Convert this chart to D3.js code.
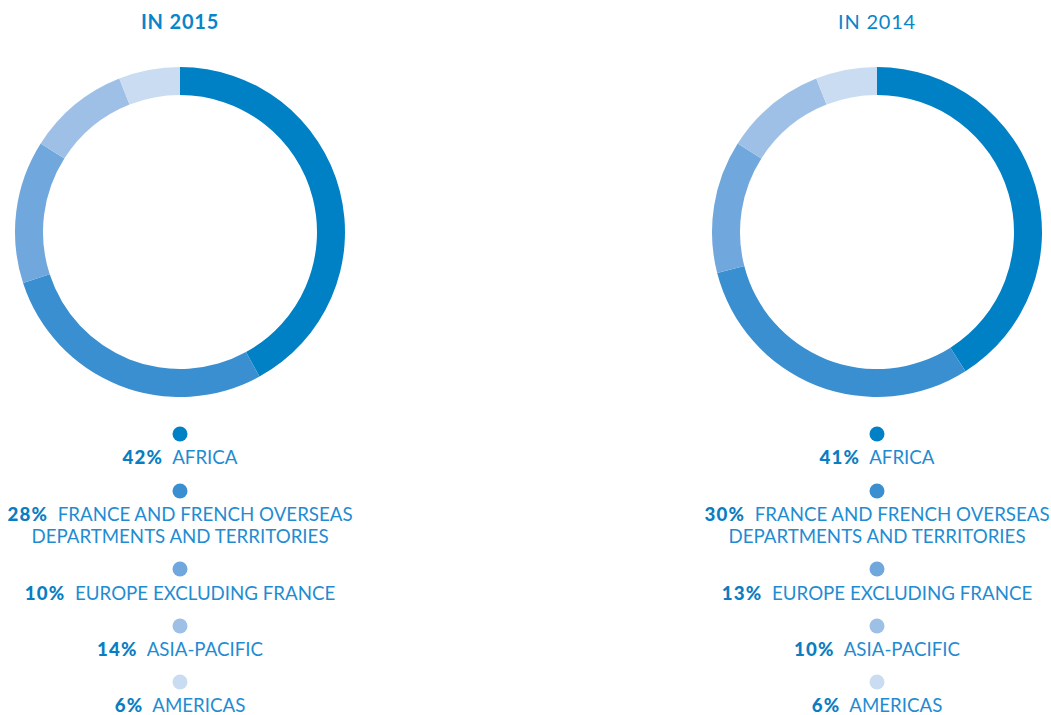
<!DOCTYPE html>
<html>
<head>
<meta charset="utf-8">
<script src="https://cdn.jsdelivr.net/npm/d3@7"></script>
<style>
  html, body { margin: 0; padding: 0; background: #ffffff; }
  svg { display: block; }
</style>
</head>
<body>
<svg id="chart" width="1051" height="715"></svg>
<script>
// ---- data ----
const categories = ["AFRICA", "FRANCE AND FRENCH OVERSEAS|DEPARTMENTS AND TERRITORIES", "EUROPE EXCLUDING FRANCE", "ASIA-PACIFIC", "AMERICAS"];
const titles = ["IN 2015", "IN 2014"];
// slice values as drawn in the rings
const values2015 = [42, 28, 14, 10, 6];
const values2014 = [41, 30, 13, 10, 6];
// percentage labels as printed in the legends
const pctLabels2015 = ["42%", "28%", "10%", "14%", "6%"];
const pctLabels2014 = ["41%", "30%", "13%", "10%", "6%"];
const colors = ["#0081c6", "#3a8fd0", "#70a7dc", "#9fc0e6", "#cadcf1"];

const svg = d3.select("#chart");
const color = d3.scaleOrdinal().domain(d3.range(categories.length)).range(colors);

const panels = [
  { cx: 180, title: titles[0], values: values2015, pcts: pctLabels2015, titleWeight: 700 },
  { cx: 877, title: titles[1], values: values2014, pcts: pctLabels2014, titleWeight: 400 }
];

const cy = 232, rOuter = 165, rInner = 137;
const pie = d3.pie().sort(null).value(d => d);
const arc = d3.arc().innerRadius(rInner).outerRadius(rOuter);

// legend vertical layout (dot centre, text baselines)
const dotY = [434, 491, 569, 626, 682];
const textY = [[464], [521, 543], [600], [656], [712]];

panels.forEach(p => {
  const g = svg.append("g");
  g.append("text")
    .attr("x", p.cx).attr("y", 29)
    .attr("text-anchor", "middle")
    .attr("font-family", "Lato, 'Open Sans', sans-serif")
    .attr("font-size", 20)
    .attr("font-weight", p.titleWeight)
    .attr("letter-spacing", 0.8)
    .attr("fill", "#0a85c8")
    .text(p.title);

  g.append("g")
    .attr("transform", `translate(${p.cx},${cy})`)
    .selectAll("path")
    .data(pie(p.values))
    .join("path")
    .attr("d", arc)
    .attr("fill", (d, i) => color(i));

  const lg = g.append("g");
  categories.forEach((c, i) => {
    lg.append("circle")
      .attr("cx", p.cx).attr("cy", dotY[i]).attr("r", 7.5)
      .attr("fill", color(i));
    const lines = c.split("|");
    lines.forEach((line, j) => {
      const t = lg.append("text")
        .attr("x", p.cx).attr("y", textY[i][j])
        .attr("text-anchor", "middle")
        .attr("font-family", "Lato, 'Open Sans', sans-serif")
        .attr("font-size", 18.7);
      if (j === 0) {
        t.append("tspan")
          .attr("font-weight", 900)
          .attr("letter-spacing", 1.2)
          .attr("fill", "#0a7dc2")
          .text(p.pcts[i]);
        t.append("tspan")
          .attr("fill", "#1f8cd2")
          .attr("font-weight", 400)
          .attr("letter-spacing", 0)
          .text("\u00a0\u00a0" + line);
      } else {
        t.attr("fill", "#1f8cd2").text(line);
      }
    });
  });
});
</script>
</body>
</html>
